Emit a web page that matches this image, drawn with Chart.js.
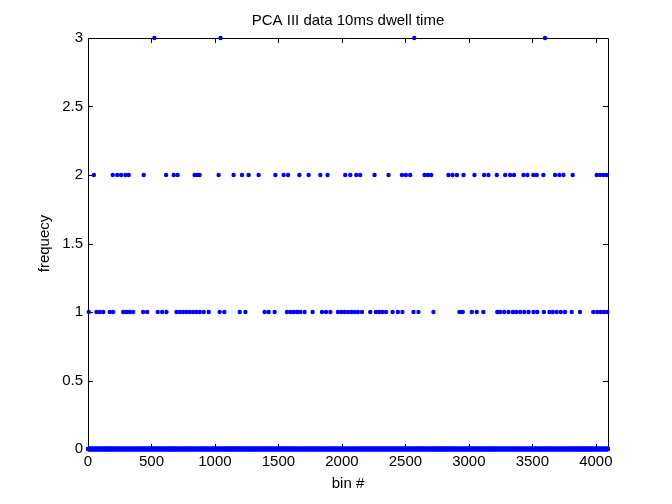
<!DOCTYPE html>
<html>
<head>
<meta charset="utf-8">
<script src="https://cdn.jsdelivr.net/npm/chart.js@4/dist/chart.umd.min.js"></script>
<style>
    html, body { margin: 0; background: #fff; }
    canvas { display: block; }
</style>
</head>
<body>
<canvas id="histChart" width="672" height="504"></canvas>
<script>
// histogram: 4096 bins, most are 0
const binCount = 4096;
const xTicks = [0, 500, 1000, 1500, 2000, 2500, 3000, 3500, 4000];
const yTicks = [0, 0.5, 1, 1.5, 2, 2.5, 3];

// bins, by count
const onesBins = [6, 67, 93, 120, 172, 198, 277, 303, 329, 356, 434, 466, 549, 584, 618, 697, 723, 749, 775, 801,
    828, 854, 880, 911, 951, 1037, 1074, 1195, 1240, 1391, 1423, 1470, 1567, 1594, 1620, 1646, 1672, 1706, 1738,
    1769, 1843, 1875, 1909, 1969, 1995, 2021, 2048, 2074, 2100, 2126, 2158, 2223, 2268, 2294, 2320, 2347, 2399,
    2441, 2477, 2564, 2603, 2721, 2926, 2952, 3023, 3062, 3114, 3224, 3246, 3278, 3312, 3347, 3373, 3404, 3436,
    3470, 3509, 3539, 3591, 3635, 3661, 3692, 3724, 3757, 3810, 3875, 3980, 4011, 4038, 4064, 4090];
const twosBins = [46, 195, 230, 261, 295, 321, 439, 615, 675, 706, 840, 859, 879, 1029, 1147, 1213, 1265, 1344,
    1476, 1541, 1576, 1665, 1738, 1830, 1887, 2026, 2066, 2113, 2144, 2257, 2367, 2473, 2504, 2538, 2651, 2677,
    2703, 2839, 2871, 2906, 2958, 3044, 3120, 3154, 3220, 3286, 3325, 3356, 3430, 3461, 3508, 3535, 3587, 3679,
    3713, 3745, 3818, 4007, 4033, 4059, 4086];
const threesBins = [523, 1044, 2570, 3600];

const counts = new Array(binCount).fill(0);
onesBins.forEach(b => counts[b] = 1);
twosBins.forEach(b => counts[b] = 2);
threesBins.forEach(b => counts[b] = 3);
const points = counts.map((c, i) => ({ x: i, y: c }));

const FONT = "'Liberation Sans', Arial, Helvetica, sans-serif";

// matlab style box with inward ticks on all four sides
const axesBox = {
    id: "axesBox",
    beforeDatasetsDraw(chart) {
        const { ctx, chartArea: a, scales: { x, y } } = chart;
        const tl = 5;
        ctx.save();
        ctx.strokeStyle = "#000";
        ctx.lineWidth = 1;
        ctx.beginPath();
        ctx.rect(a.left + 0.5, a.top + 0.5, a.right - a.left, a.bottom - a.top);
        x.ticks.forEach(t => {
            const px = Math.round(x.getPixelForValue(t.value)) + 0.5;
            ctx.moveTo(px, a.bottom); ctx.lineTo(px, a.bottom - tl);
            ctx.moveTo(px, a.top); ctx.lineTo(px, a.top + tl);
        });
        y.ticks.forEach(t => {
            const py = Math.round(y.getPixelForValue(t.value)) + 0.5;
            ctx.moveTo(a.left, py); ctx.lineTo(a.left + tl, py);
            ctx.moveTo(a.right, py); ctx.lineTo(a.right - tl, py);
        });
        ctx.stroke();
        ctx.restore();
    }
};

const noGrid = { display: false, drawTicks: false, tickLength: 0 };

new Chart(document.getElementById("histChart"), {
    type: "scatter",
    data: {
        datasets: [{
            data: points,
            pointStyle: "circle",
            pointRadius: 2.2,
            pointHoverRadius: 2.2,
            pointBackgroundColor: "#0000ff",
            pointBorderWidth: 0,
            clip: false
        }]
    },
    options: {
        responsive: false,
        animation: false,
        events: [],
        layout: { padding: { left: 0, right: 64, top: 0, bottom: 0 } },
        plugins: {
            legend: { display: false },
            tooltip: { enabled: false },
            title: {
                display: true,
                text: "PCA III data 10ms dwell time",
                fullSize: false,
                color: "#000",
                font: { family: FONT, size: 15, weight: "normal" },
                padding: { top: 11.5, bottom: 8.5 }
            }
        },
        scales: {
            x: {
                type: "linear",
                min: 0,
                max: binCount,
                grid: noGrid,
                border: { display: false },
                afterBuildTicks: s => { s.ticks = xTicks.map(v => ({ value: v })); },
                afterFit: s => { s.height = 55; },
                ticks: {
                    color: "#000",
                    padding: 4,
                    maxRotation: 0,
                    font: { family: FONT, size: 15 },
                    callback: v => String(v)
                },
                title: {
                    display: true,
                    text: "bin #",
                    color: "#000",
                    font: { family: FONT, size: 15 },
                    padding: { top: 0, bottom: 11 }
                }
            },
            y: {
                type: "linear",
                min: 0,
                max: 3,
                grid: noGrid,
                border: { display: false },
                afterBuildTicks: s => { s.ticks = yTicks.map(v => ({ value: v })); },
                afterFit: s => { s.width = 88; },
                ticks: {
                    color: "#000",
                    padding: 5,
                    font: { family: FONT, size: 15 },
                    callback: v => String(v)
                },
                title: {
                    display: true,
                    text: "frequecy",
                    color: "#000",
                    font: { family: FONT, size: 15 },
                    padding: { top: 36, bottom: 0 }
                }
            }
        }
    },
    plugins: [axesBox]
});
</script>
</body>
</html>
